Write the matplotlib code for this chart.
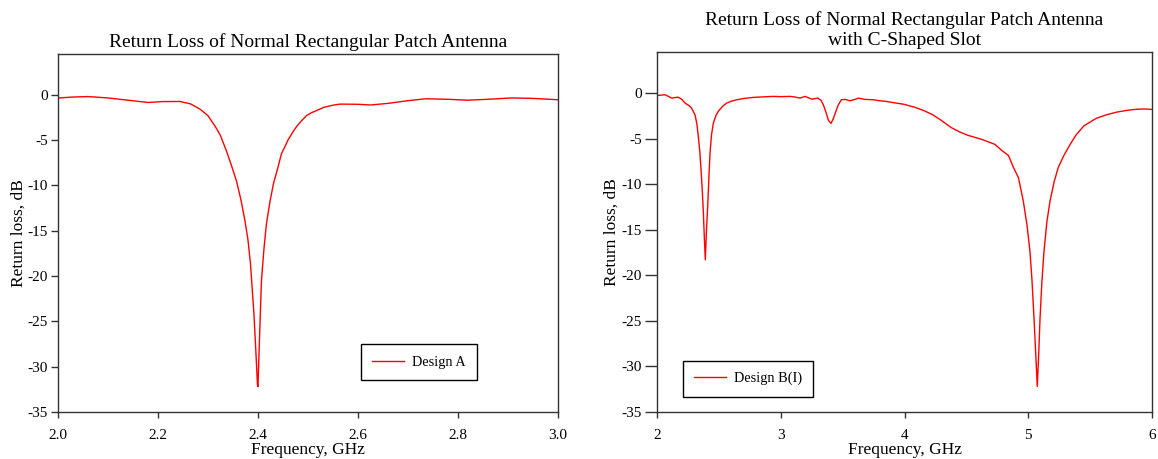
import matplotlib
matplotlib.use("Agg")
import matplotlib.pyplot as plt

plt.rcParams['font.family'] = ['Liberation Serif', 'DejaVu Serif']
plt.rcParams['axes.unicode_minus'] = False

# Design A: normal rectangular patch
freq_a = [2.00, 2.03, 2.06, 2.10, 2.14, 2.18, 2.21, 2.244, 2.265, 2.284,
          2.30, 2.311, 2.318, 2.325, 2.337, 2.347, 2.357, 2.366, 2.374, 2.38,
          2.385, 2.392, 2.396, 2.399, 2.40, 2.403, 2.407, 2.412, 2.417, 2.424,
          2.431, 2.44, 2.447, 2.455, 2.46, 2.471, 2.478, 2.485, 2.497, 2.506,
          2.515, 2.531, 2.55, 2.564, 2.60, 2.625, 2.66, 2.70, 2.736, 2.78,
          2.818, 2.86, 2.906, 2.95, 3.00]
rl_a = [-0.36, -0.25, -0.2, -0.35, -0.6, -0.85, -0.75, -0.74, -1.0, -1.58,
        -2.3, -3.2, -3.8, -4.5, -6.2, -7.8, -9.5, -11.6, -13.9, -16.0,
        -18.6, -24.2, -28.5, -32.0, -32.2, -27.0, -20.5, -17.0, -14.2, -11.8,
        -9.8, -8.0, -6.5, -5.6, -5.0, -4.0, -3.45, -3.0, -2.3, -2.0,
        -1.8, -1.4, -1.15, -1.03, -1.05, -1.13, -0.95, -0.65, -0.44, -0.5,
        -0.6, -0.5, -0.35, -0.4, -0.55]

# Design B(I): patch with C-shaped slot
freq_b = [2.00, 2.065, 2.12, 2.17, 2.20, 2.226, 2.26, 2.28, 2.307, 2.322,
          2.334, 2.346, 2.356, 2.366, 2.374, 2.382, 2.39, 2.398, 2.41, 2.42,
          2.428, 2.44, 2.455, 2.475, 2.495, 2.53, 2.563, 2.60, 2.644, 2.70,
          2.78, 2.86, 2.94, 3.0, 3.075, 3.12, 3.155, 3.196, 3.25, 3.30,
          3.325, 3.344, 3.365, 3.385, 3.406, 3.425, 3.44, 3.465, 3.49, 3.52,
          3.56, 3.60, 3.627, 3.68, 3.75, 3.80, 3.856, 3.93, 3.993, 4.08,
          4.157, 4.23, 4.293, 4.376, 4.45, 4.51, 4.62, 4.73, 4.786, 4.84,
          4.88, 4.921, 4.96, 4.99, 5.014, 5.03, 5.047, 5.06, 5.073, 5.085,
          5.095, 5.11, 5.127, 5.15, 5.176, 5.21, 5.243, 5.29, 5.34, 5.385,
          5.45, 5.549, 5.63, 5.713, 5.80, 5.877, 5.94, 6.00]
rl_b = [-0.27, -0.19, -0.56, -0.45, -0.7, -1.1, -1.4, -1.67, -2.4, -3.4,
        -4.8, -6.5, -8.5, -10.8, -13.0, -15.8, -18.3, -15.5, -12.2, -9.0,
        -6.6, -4.6, -3.3, -2.5, -2.0, -1.45, -1.1, -0.9, -0.74, -0.6,
        -0.48, -0.42, -0.37, -0.4, -0.37, -0.45, -0.56, -0.37, -0.67, -0.56,
        -0.8, -1.3, -2.1, -3.0, -3.33, -2.8, -2.2, -1.3, -0.74, -0.7,
        -0.85, -0.7, -0.56, -0.7, -0.74, -0.85, -0.93, -1.1, -1.23, -1.55,
        -1.93, -2.4, -2.96, -3.78, -4.3, -4.63, -5.07, -5.63, -6.3, -6.85,
        -8.15, -9.3, -11.85, -14.5, -17.4, -20.5, -24.8, -28.5, -32.2, -28.5,
        -24.8, -20.8, -17.4, -14.2, -11.85, -9.7, -8.15, -6.8, -5.6, -4.63,
        -3.6, -2.78, -2.4, -2.1, -1.9, -1.78, -1.75, -1.8]

fig = plt.figure(figsize=(11.58, 4.59), dpi=100)
ax1 = fig.add_axes([0.050, 0.1024, 0.4319, 0.7800])
ax2 = fig.add_axes([0.5674, 0.1024, 0.4274, 0.7843])


def style(ax, ypad, ylen):
    for sp in ax.spines.values():
        sp.set_color('#333333')
        sp.set_linewidth(1.0)
    ax.tick_params(direction='out', length=4, width=1, labelsize=11,
                   color='#333333')
    ax.tick_params(axis='x', pad=8)
    ax.tick_params(axis='y', length=ylen, pad=2)
    ax.set_ylim(-35, 4.5)
    ax.set_yticks([0, -5, -10, -15, -20, -25, -30, -35])
    ax.set_xlabel('Frequency, GHz', fontsize=12.5, labelpad=0)
    ax.set_ylabel('Return loss, dB', fontsize=12.5, labelpad=ypad)


def add_legend(ax, anchor):
    leg = ax.legend(loc='lower left', bbox_to_anchor=anchor,
                    fancybox=False, edgecolor='black', framealpha=1,
                    fontsize=10.3, borderpad=0.8, handlelength=2.2,
                    handletextpad=0.55, borderaxespad=0)
    leg.get_frame().set_linewidth(1.0)


ax1.plot(freq_a, rl_a, color='red', lw=1.0, label='Design A')
ax1.set_xlim(2.0, 3.0)
ax1.set_xticks([2.0, 2.2, 2.4, 2.6, 2.8, 3.0])
ax1.set_xticklabels(['2.0', '2.2', '2.4', '2.6', '2.8', '3.0'])
style(ax1, 1, 5)
ax1.set_title('Return Loss of Normal Rectangular Patch Antenna',
              fontsize=14, pad=5)
add_legend(ax1, (0.606, 0.089))

ax2.plot(freq_b, rl_b, color='red', lw=1.0, label='Design B(I)')
ax2.set_xlim(2, 6)
ax2.set_xticks([2, 3, 4, 5, 6])
style(ax2, 1, 9)
ax2.set_title('Return Loss of Normal Rectangular Patch Antenna\nwith C-Shaped Slot',
              fontsize=14, pad=5, linespacing=1.25)
add_legend(ax2, (0.052, 0.042))

fig.savefig('out.png', dpi=100)
